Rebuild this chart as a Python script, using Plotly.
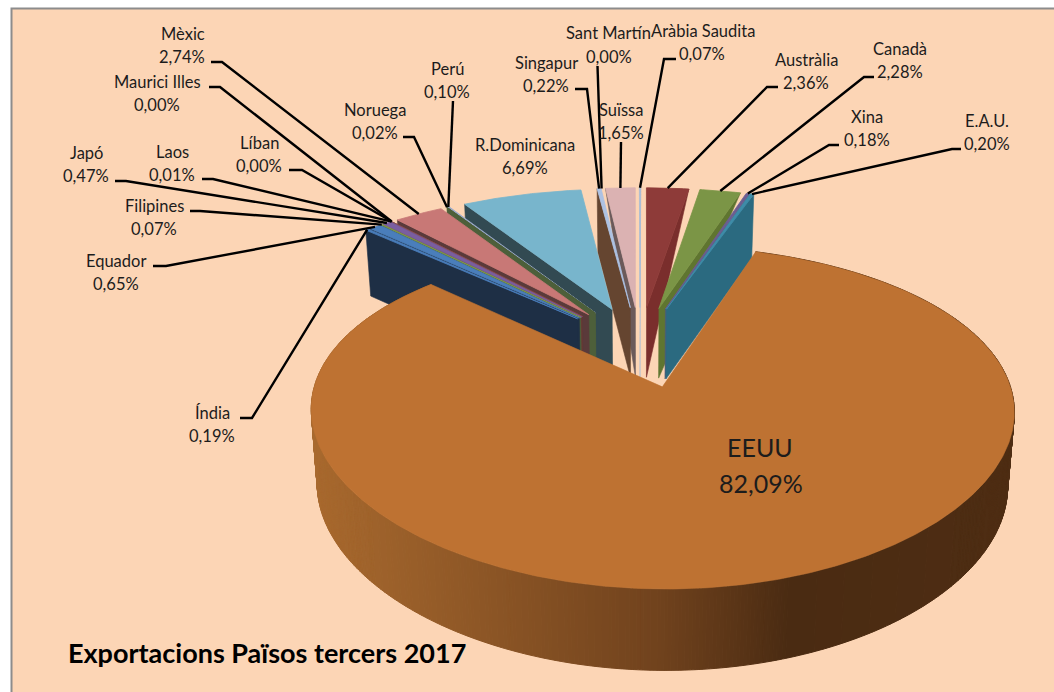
import math
import plotly.graph_objects as go

# ---------- data ----------
countries = ["EEUU", "Índia", "Equador", "Filipines", "Japó", "Laos", "Líban", "Maurici Illes",
             "Mèxic", "Noruega", "Perú", "R.Dominicana", "Singapur", "Sant Martín", "Suïssa",
             "Aràbia Saudita", "Austràlia", "Canadà", "Xina", "E.A.U."]
shares = [82.09, 0.19, 0.65, 0.07, 0.47, 0.01, 0.00, 0.00,
          2.74, 0.02, 0.10, 6.69, 0.22, 0.00, 1.65,
          0.07, 2.36, 2.28, 0.18, 0.20]
title_text = "Exportacions Països tercers 2017"

# ---------- styles ----------
top_colors = dict(zip(countries, ["#BE7232", "#4A7EBB", "#4A7EBB", "#7F9A4A", "#7A5EA0", "#8A4A48", "#8A4A48", "#8A4A48",
    "#C87876", "#4D5F3A", "#9AA8C8", "#78B5CC", "#ADC2E3", "#ADC2E3", "#DBB2B2",
    "#A9BDD6", "#8E3B39", "#7B9546", "#6B5D91", "#3E8CA8"]))
wall_colors = dict(zip(countries, ["#6E401B", "#1E2F45", "#1E2F45", "#4D5F3A", "#6B3533", "#5A3A3A", "#5A3A3A", "#5A3A3A",
    "#5A3A3A", "#4D5F3A", "#4D5F3A", "#324A52", "#654530", "#654530", "#6B5A5A",
    "#A9BDD6", "#7A2E2C", "#5F7530", "#4D5B78", "#2B6A80"]))
tapered = {"Suïssa", "Aràbia Saudita", "Austràlia", "Canadà"}
BG = "#FCD5B5"

# label layout: (name line x, name y, value x, value y, leader bend points)
label_layout = {
    "Índia": (212, 413, 212, 436, [(240, 418), (252, 418)]),
    "Equador": (116, 261, 116, 284, [(153, 266), (166, 266)]),
    "Filipines": (154, 206, 154, 229, [(190, 211), (200, 211)]),
    "Japó": (86, 153, 86, 176, [(115, 181), (126, 181)]),
    "Laos": (172, 152, 172, 175, [(202, 179), (213, 179)]),
    "Líban": (259, 143, 259, 166, [(289, 170), (302, 170)]),
    "Maurici Illes": (157, 82, 157, 105, [(209, 87), (220, 87)]),
    "Mèxic": (183, 34, 182, 57, [(211, 62), (222, 62)]),
    "Noruega": (375, 110, 375, 133, [(403, 137), (414, 137)]),
    "Perú": (447, 69, 447, 92, [(453, 101)]),
    "R.Dominicana": (525, 145, 525, 168, []),
    "Singapur": (546, 63, 546, 86, [(575, 89), (587, 89)]),
    "Sant Martín": (608, 33, 609, 57, [(597.5, 66)]),
    "Suïssa": (621, 110, 621, 133, [(621, 142)]),
    "Aràbia Saudita": (703, 31, 702, 54, [(676, 59), (664, 59)]),
    "Austràlia": (806, 60, 806, 83, [(778, 87), (767, 87)]),
    "Canadà": (900, 49, 900, 72, [(874, 77), (864, 77)]),
    "Xina": (867, 117, 867, 140, [(839, 145), (829, 145)]),
    "E.A.U.": (987, 121, 987, 144, [(961, 149), (952, 149)]),
}

# ---------- camera ----------
OX, OY = 640, 346
A, B, K, KX = 336, 152, 0.17, 0.135
EXPLODE = 0.265
H, KZ = 71.5, 0.0966
SHRINK = 0.982
START_DEG = 18.2


def top_pt(w):
    return OX + A * w[0] / (1 - KX * w[1]), OY + B * w[1] / (1 - K * w[1])


def bot_pt(w):
    x, y = top_pt(w)
    return OX + (x - OX) * SHRINK, y + H / (1 - KZ * w[1])


total = sum(shares)
slices = {}
ang = START_DEG
for name, share in zip(countries, shares):
    sweep = share / total * 360
    mid = math.radians(ang + sweep / 2)
    d = (EXPLODE * math.sin(mid), -EXPLODE * math.cos(mid))
    n = max(2, int(sweep * 2))
    arc = []
    for i in range(n + 1):
        t = math.radians(ang + sweep * i / n)
        arc.append((d[0] + math.sin(t), d[1] - math.cos(t)))
    m = (d[0] + math.sin(mid), d[1] - math.cos(mid))
    slices[name] = dict(apex=d, arc=arc, mid=ang + sweep / 2, outer=m, share=share)
    ang += sweep

fig = go.Figure()


def poly(pts, color, lw=1.0):
    xs = [p[0] for p in pts] + [pts[0][0]]
    ys = [p[1] for p in pts] + [pts[0][1]]
    fig.add_trace(go.Scatter(x=xs, y=ys, mode="lines", fill="toself", fillcolor=color,
                             line=dict(color=color, width=lw), hoverinfo="skip", showlegend=False))


def hex_lerp(c0, c1, t):
    a = [int(c0[i:i + 2], 16) for i in (1, 3, 5)]
    b = [int(c1[i:i + 2], 16) for i in (1, 3, 5)]
    return "#%02X%02X%02X" % tuple(round(a[i] + (b[i] - a[i]) * t) for i in range(3))


GRAD = [(312, "#A8692E"), (660, "#70421D"), (790, "#4A2B12"), (1010, "#4E2D13")]


def grad_color(x):
    for (x0, c0), (x1, c1) in zip(GRAD, GRAD[1:]):
        if x <= x1:
            return hex_lerp(c0, c1, max(0, (x - x0) / (x1 - x0)))
    return GRAD[-1][1]


def draw_small(name):
    s = slices[name]
    if s["share"] <= 0:
        return
    left_side = s["mid"] > 180 and s["mid"] < 360
    edge = s["arc"][0] if left_side else s["arc"][-1]
    ap = s["apex"]
    if name in tapered:
        wall = [top_pt(edge), top_pt(ap), bot_pt(ap)]
    else:
        wall = [top_pt(edge), top_pt(ap), bot_pt(ap), bot_pt(edge)]
    poly(wall, wall_colors[name], 0.6)
    poly([top_pt(ap)] + [top_pt(p) for p in s["arc"]], top_colors[name], 0.8)


names_small = countries[1:]
left = [c for c in names_small if 180 < slices[c]["mid"] < 360]
right = [c for c in names_small if c not in left]
for c in reversed(left):
    draw_small(c)
for c in right:
    draw_small(c)

# EEUU outer wall as gradient bands, grouped by shade
big = slices["EEUU"]
arc = big["arc"]
groups = {}
for p, q in zip(arc, arc[1:]):
    a, b = top_pt(p), top_pt(q)
    c, e = bot_pt(q), bot_pt(p)
    col = grad_color((a[0] + b[0]) / 2)
    g = groups.setdefault(col, ([], []))
    g[0].extend([a[0], b[0], c[0], e[0], a[0], None])
    g[1].extend([a[1], b[1], c[1], e[1], a[1], None])
for col, (xs, ys) in groups.items():
    fig.add_trace(go.Scatter(x=xs, y=ys, mode="lines", fill="toself", fillcolor=col,
                             line=dict(color=col, width=1), hoverinfo="skip", showlegend=False))
poly([top_pt(big["apex"])] + [top_pt(p) for p in arc], top_colors["EEUU"], 0.6)

# leaders
for name, (_, _, _, _, bends) in label_layout.items():
    if not bends:
        continue
    end = top_pt(slices[name]["outer"])
    pts = bends + [end]
    fig.add_trace(go.Scatter(x=[p[0] for p in pts], y=[p[1] for p in pts], mode="lines",
                             line=dict(color="#000000", width=2.4), hoverinfo="skip", showlegend=False))

# labels
FONT = "Lato"
ann = []


def txt(x, y, s, size=16.5, bold=False, anchor="center", color="#1C1C1C"):
    ann.append(dict(x=x, y=y, xref="x", yref="y", text=f"<b>{s}</b>" if bold else s, showarrow=False,
                    xanchor=anchor, yanchor="middle", font=dict(family=FONT, size=size, color=color)))


for name, share in zip(countries, shares):
    if name not in label_layout:
        continue
    nx, ny, vx, vy, _ = label_layout[name]
    txt(nx, ny, name)
    txt(vx, vy, f"{share:.2f}%".replace(".", ","))
txt(760, 447, "EEUU", size=25)
txt(761, 483, f"{shares[0]:.2f}%".replace(".", ","), size=25)
txt(66, 652, title_text, size=27, bold=True, anchor="left", color="#000000")

fig.update_layout(
    width=1054, height=692, margin=dict(l=0, r=0, t=0, b=0),
    paper_bgcolor="#FFFFFF", plot_bgcolor="#FFFFFF", showlegend=False,
    xaxis=dict(range=[0, 1054], visible=False, fixedrange=True),
    yaxis=dict(range=[692, 0], visible=False, fixedrange=True),
    annotations=ann,
    shapes=[dict(type="rect", xref="x", yref="y", x0=11.5, y0=8.5, x1=1070, y1=710,
                 fillcolor=BG, line=dict(color="#8C8C8C", width=2), layer="below")],
)
fig.write_html("out.html", config={"displayModeBar": False},
               post_script="document.body.style.margin='0';document.body.style.overflow='hidden';")
